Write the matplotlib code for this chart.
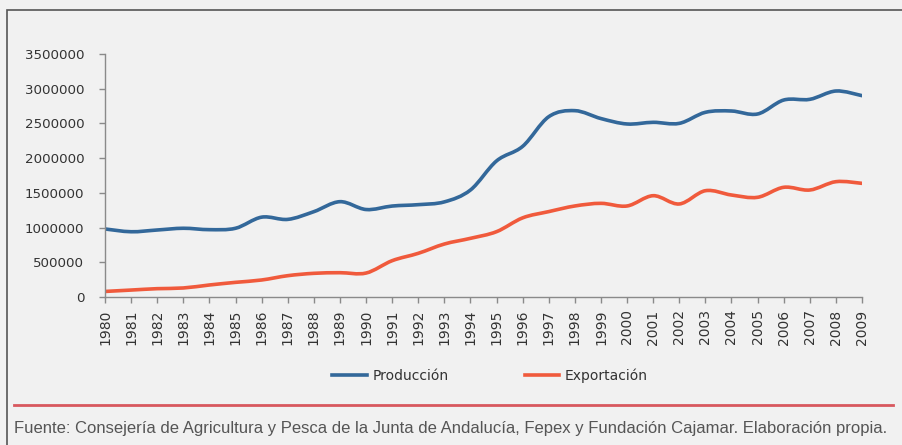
import matplotlib
matplotlib.use("Agg")
import matplotlib.pyplot as plt
from matplotlib.path import Path
from matplotlib.patches import PathPatch, Rectangle
from matplotlib.lines import Line2D
import numpy as np

years = list(range(1980, 2010))
produccion = [980000, 940000, 965000, 990000, 970000, 990000, 1150000, 1118000, 1229000, 1373000,
              1260000, 1310000, 1330000, 1370000, 1541000, 1960000, 2170000, 2597000, 2684000, 2570000,
              2492000, 2516000, 2501000, 2660000, 2679000, 2636000, 2837000, 2847000, 2967000, 2900000]
exportacion = [80000, 100000, 120000, 130000, 173000, 211000, 245000, 307000, 341000, 350000,
               345000, 523000, 629000, 763000, 845000, 941000, 1140000, 1230000, 1311000, 1349000,
               1311000, 1459000, 1340000, 1531000, 1469000, 1436000, 1580000, 1541000, 1661000, 1637000]
series_names = ["Producción", "Exportación"]
series_colors = ["#33689a", "#f05a3c"]
yticks = [0, 500000, 1000000, 1500000, 2000000, 2500000, 3000000, 3500000]
source = "Fuente: Consejería de Agricultura y Pesca de la Junta de Andalucía, Fepex y Fundación Cajamar. Elaboración propia."

W, H = 902, 445
bg = "#f1f1f1"
fig = plt.figure(figsize=(W / 100, H / 100), dpi=100, facecolor=bg)
ax = fig.add_axes([105 / W, 1 - 297 / H, (862 - 105) / W, (297 - 54) / H])
ax.set_facecolor(bg)


def smooth_path(xs, ys):
    x = np.asarray(xs, float)
    y = np.asarray(ys, float)
    n = len(x)
    verts = [(x[0], y[0])]
    codes = [Path.MOVETO]
    for i in range(n - 1):
        x0, y0 = (x[i - 1], y[i - 1]) if i > 0 else (x[i], y[i])
        x3, y3 = (x[i + 2], y[i + 2]) if i + 2 < n else (x[i + 1], y[i + 1])
        c1 = (x[i] + (x[i + 1] - x0) / 6, y[i] + (y[i + 1] - y0) / 6)
        c2 = (x[i + 1] - (x3 - x[i]) / 6, y[i + 1] - (y3 - y[i]) / 6)
        verts += [c1, c2, (x[i + 1], y[i + 1])]
        codes += [Path.CURVE4] * 3
    return Path(verts, codes)


for vals, col in zip([produccion, exportacion], series_colors):
    p = smooth_path(years, vals)
    ax.add_patch(PathPatch(p, fill=False, edgecolor=col, lw=2.6, capstyle="round", joinstyle="round"))

ax.set_xlim(1980, 2009)
ax.set_ylim(0, 3500000)
ax.set_yticks(yticks)
ax.set_yticklabels([str(v) for v in yticks])
ax.set_xticks(years)
ax.set_xticklabels([str(y) for y in years], rotation=90)
for s in ["top", "right"]:
    ax.spines[s].set_visible(False)
for s in ["left", "bottom"]:
    ax.spines[s].set_color("#8a8a8a")
    ax.spines[s].set_linewidth(1.0)
ax.tick_params(axis="both", colors="#8a8a8a", length=4, width=1, labelcolor="#333333", labelsize=10)
ax.tick_params(axis="y", labelsize=9.6, pad=11)
ax.tick_params(axis="x", pad=5)

handles = [Line2D([], [], color=c, lw=2.6) for c in series_colors]
fig.legend(handles, series_names, loc="center", bbox_to_anchor=(490 / W, 1 - 376 / H), ncol=2,
           frameon=False, fontsize=10, handlelength=2.5, handletextpad=0.4, columnspacing=5.5,
           labelcolor="#333333")

# outer frame
fig.add_artist(Rectangle((7 / W, -0.05), 1.2, 1 - 10 / H + 0.05, transform=fig.transFigure,
                         fill=False, edgecolor="#555555", lw=1.2))
# red rule
fig.add_artist(Line2D([14 / W, 893 / W], [1 - 405 / H] * 2, transform=fig.transFigure,
                      color="#d8585e", lw=2))
txt = fig.text(14 / W, 1 - 428 / H, source, ha="left", va="center", fontsize=11.5, color="#555555",
               family=["Liberation Sans", "DejaVu Sans"])
fig.canvas.draw()
r = fig.canvas.get_renderer()
wpx = txt.get_window_extent(r).width
txt.set_fontsize(11.5 * 873 / wpx)

fig.savefig("out.png", dpi=100, facecolor=bg)
